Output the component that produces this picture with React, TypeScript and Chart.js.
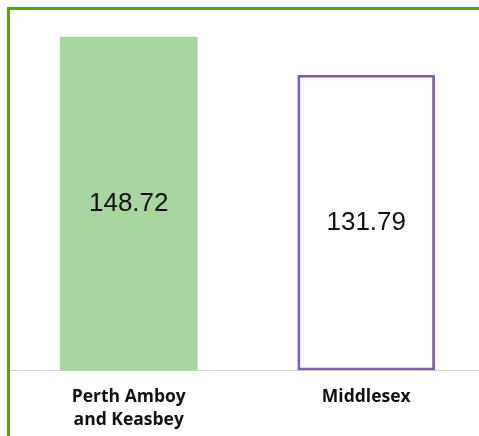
import React, { useEffect, useRef } from "react";
import { Chart, registerables } from "chart.js";

Chart.register(...registerables);

const categories: string[][] = [["Perth Amboy", "and Keasbey"], ["Middlesex"]];
const values: number[] = [148.72, 131.79];
const valueLabels: string[] = ["148.72", "131.79"];
const fillColors: string[] = ["#a9d5a0", "#ffffff"];
const borderColors: string[] = ["#a9d5a0", "#8064a2"];
const borderWidths: number[] = [0, 3];

const valuePlugin = {
  id: "valueLabels",
  afterDatasetsDraw(chart: any) {
    const ctx = chart.ctx;
    const meta = chart.getDatasetMeta(0);
    ctx.save();
    ctx.font = "26px 'Liberation Sans', Arial, sans-serif";
    ctx.fillStyle = "#111111";
    ctx.textAlign = "center";
    ctx.textBaseline = "middle";
    meta.data.forEach((bar: any, i: number) => {
      const y = (bar.y + bar.base) / 2;
      ctx.fillText(valueLabels[i], bar.x, y);
    });
    ctx.restore();
  },
};

export default function App() {
  const canvasRef = useRef<HTMLCanvasElement | null>(null);

  useEffect(() => {
    if (!canvasRef.current) return;
    const chart = new Chart(canvasRef.current, {
      type: "bar",
      data: {
        labels: categories,
        datasets: [
          {
            data: values,
            backgroundColor: fillColors,
            borderColor: borderColors,
            borderWidth: borderWidths,
            borderSkipped: false,
            barPercentage: 0.58,
            categoryPercentage: 1,
          },
        ],
      },
      options: {
        responsive: false,
        animation: false,
        layout: { padding: 0 },
        plugins: {
          legend: { display: false },
          tooltip: { enabled: false },
          title: { display: false },
        },
        scales: {
          x: {
            grid: { display: false, drawTicks: false },
            border: { display: true, color: "#d0d0d0", width: 1 },
            ticks: {
              color: "#111111",
              padding: 15,
              font: { family: "'Open Sans', sans-serif", size: 17.5, weight: "bold", lineHeight: 1.3 },
            },
          },
          y: {
            display: false,
            min: 0,
            max: 160.7,
          },
        },
      },
      plugins: [valuePlugin],
    });
    return () => chart.destroy();
  }, []);

  return (
    <div
      style={{
        position: "fixed",
        left: 7,
        top: 7,
        width: 472,
        height: 429,
        overflow: "hidden",
        boxSizing: "border-box",
        borderLeft: "3px solid #5e9e0c",
        borderTop: "3px solid #5e9e0c",
        background: "#ffffff",
      }}
    >
      <canvas
        ref={canvasRef}
        width={475}
        height={436}
        style={{ position: "absolute", left: 0, top: 0, width: 475, height: 436 }}
      />
    </div>
  );
}
